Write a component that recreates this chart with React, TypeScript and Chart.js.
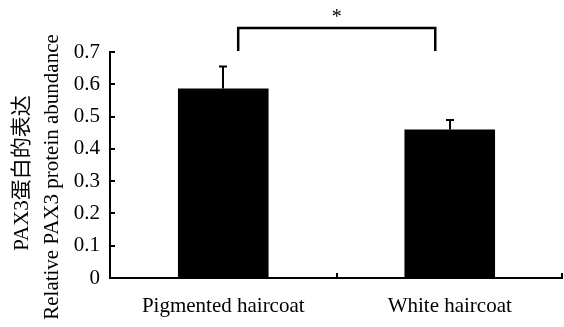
import React, { useEffect, useRef } from "react";
import { Chart, registerables } from "chart.js";

Chart.register(...registerables);

const CATEGORIES = ["Pigmented haircoat", "White haircoat"];
const VALUES = [0.587, 0.46];
const ERRORS = [0.068, 0.029];
const Y_TICKS_MAX = 0.7;
const Y_TITLE_LINES = ["PAX3蛋白的表达", "Relative PAX3 protein abundance"];
const SIG_LABEL = "*";
const SIG_FROM = 0.066;
const SIG_TO = 0.936;
const SIG_LEVEL = 0.774;
const SIG_LEG_BOTTOM = 0.703;

const FONT_FAMILY = "'Liberation Serif', 'Times New Roman', 'Noto Sans CJK SC', serif";

const overlayPlugin = {
  id: "overlay",
  afterDraw(chart: any) {
    const { ctx, chartArea, scales } = chart;
    const x = scales.x;
    const y = scales.y;
    ctx.save();
    ctx.strokeStyle = "#000";
    ctx.fillStyle = "#000";
    ctx.lineWidth = 2;
    ctx.lineCap = "butt";

    // axes
    const left = chartArea.left;
    const bottom = y.getPixelForValue(0);
    ctx.beginPath();
    ctx.moveTo(left, y.getPixelForValue(Y_TICKS_MAX) - 1);
    ctx.lineTo(left, bottom);
    ctx.lineTo(chartArea.right, bottom);
    ctx.stroke();

    // y ticks (inward)
    for (let i = 1; i <= 7; i++) {
      const py = Math.round(y.getPixelForValue(i / 10));
      ctx.beginPath();
      ctx.moveTo(left, py);
      ctx.lineTo(left + 5, py);
      ctx.stroke();
    }
    // x ticks (inward) at category boundaries
    for (let i = 0; i < CATEGORIES.length; i++) {
      const px = Math.round(x.getPixelForValue(i + 0.5));
      ctx.beginPath();
      ctx.moveTo(Math.min(px, chartArea.right - 1), bottom);
      ctx.lineTo(Math.min(px, chartArea.right - 1), bottom - 5);
      ctx.stroke();
    }

    // error bars
    VALUES.forEach((v, i) => {
      const cx = Math.round(x.getPixelForValue(i));
      const yTop = y.getPixelForValue(v + ERRORS[i]);
      const yBase = y.getPixelForValue(v);
      ctx.beginPath();
      ctx.moveTo(cx, yBase);
      ctx.lineTo(cx, yTop);
      ctx.moveTo(cx - 4, yTop);
      ctx.lineTo(cx + 4, yTop);
      ctx.stroke();
    });

    // significance bracket
    const x1 = x.getPixelForValue(SIG_FROM);
    const x2 = x.getPixelForValue(SIG_TO);
    const yl = y.getPixelForValue(SIG_LEVEL);
    const yb = y.getPixelForValue(SIG_LEG_BOTTOM);
    ctx.lineWidth = 2.5;
    ctx.beginPath();
    ctx.moveTo(x1, yb);
    ctx.lineTo(x1, yl);
    ctx.lineTo(x2, yl);
    ctx.lineTo(x2, yb);
    ctx.stroke();
    ctx.font = `20px ${FONT_FAMILY}`;
    ctx.textAlign = "center";
    ctx.textBaseline = "middle";
    ctx.fillText(SIG_LABEL, (x1 + x2) / 2, yl - 10);

    // y title lines
    ctx.font = `21px ${FONT_FAMILY}`;
    const centers = [
      { x: 22, y: 173 },
      { x: 52, y: 177 },
    ];
    Y_TITLE_LINES.forEach((t, i) => {
      ctx.save();
      ctx.translate(centers[i].x, centers[i].y);
      ctx.rotate(-Math.PI / 2);
      ctx.fillText(t, 0, 0);
      ctx.restore();
    });
    ctx.restore();
  },
};

export default function App() {
  const ref = useRef<HTMLCanvasElement | null>(null);
  useEffect(() => {
    if (!ref.current) return;
    const chart = new Chart(ref.current, {
      type: "bar",
      data: {
        labels: CATEGORIES,
        datasets: [
          {
            data: VALUES,
            backgroundColor: "#000",
            borderWidth: 0,
            categoryPercentage: 1,
            barPercentage: 0.4,
          },
        ],
      },
      options: {
        animation: false,
        responsive: false,
        maintainAspectRatio: false,
        layout: { padding: { top: 52, right: 1, left: 0, bottom: 0 } },
        plugins: { legend: { display: false }, tooltip: { enabled: false } },
        scales: {
          x: {
            grid: { display: false, drawTicks: false },
            border: { display: false },
            ticks: {
              color: "#000",
              padding: 16,
              maxRotation: 0,
              font: { family: FONT_FAMILY, size: 21 },
            },
            afterFit(scale: any) {
              scale.height = 49;
            },
          },
          y: {
            min: 0,
            max: Y_TICKS_MAX,
            grid: { display: false, drawTicks: false },
            border: { display: false },
            ticks: {
              stepSize: 0.1,
              color: "#000",
              padding: 10,
              font: { family: FONT_FAMILY, size: 21 },
              callback: (v: any) => (Number(v) === 0 ? "0" : Number(v).toFixed(1)),
            },
            afterFit(scale: any) {
              scale.width = 110;
            },
          },
        },
      },
      plugins: [overlayPlugin],
    });
    return () => chart.destroy();
  }, []);
  return (
    <div style={{ position: "fixed", left: 0, top: 0, width: 564, height: 327, background: "#fff" }}>
      <canvas ref={ref} width={564} height={327} style={{ width: 564, height: 327 }} />
    </div>
  );
}
